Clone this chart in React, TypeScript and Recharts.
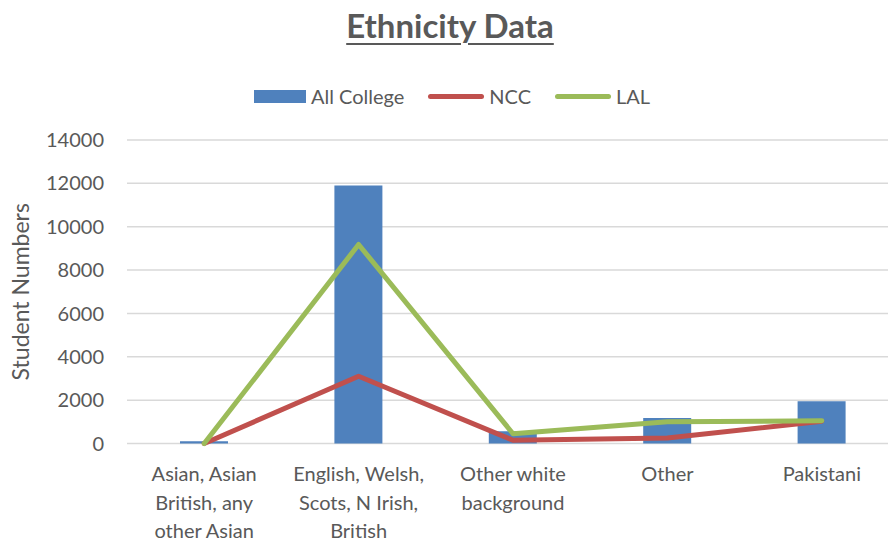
import {
  Bar,
  CartesianGrid,
  ComposedChart,
  Legend,
  Line,
  XAxis,
  YAxis,
} from "recharts";

const categories = [
  "Asian, Asian British, any other Asian",
  "English, Welsh, Scots, N Irish, British",
  "Other white background",
  "Other",
  "Pakistani",
];
const allCollege = [100, 11900, 560, 1180, 1950];
const ncc = [0, 3100, 150, 250, 1030];
const lal = [0, 9180, 450, 1000, 1050];
const yTicks = [0, 2000, 4000, 6000, 8000, 10000, 12000, 14000];

const data = categories.map((name, i) => ({
  name,
  allCollege: allCollege[i],
  ncc: ncc[i],
  lal: lal[i],
}));

const legendItems = [
  { label: "All College", color: "#4F81BD", kind: "bar" },
  { label: "NCC", color: "#C0504D", kind: "line" },
  { label: "LAL", color: "#9BBB59", kind: "line" },
];

const FONT = "Lato, 'Open Sans', sans-serif";
const TEXT = "#595959";

// split a category into lines of at most 15 characters
const wrap = (s: string, max = 15) => {
  const lines: string[] = [];
  let cur = "";
  s.split(" ").forEach((w) => {
    const next = cur ? cur + " " + w : w;
    if (next.length > max && cur) {
      lines.push(cur);
      cur = w;
    } else cur = next;
  });
  if (cur) lines.push(cur);
  return lines;
};

const CategoryTick = (props: any) => {
  const { x, y, payload } = props;
  return (
    <text x={x} y={y} textAnchor="middle" fill={TEXT} fontSize={20} fontFamily={FONT}>
      {wrap(payload.value).map((l, i) => (
        <tspan key={i} x={x} y={y + 37.5 + i * 28.7}>
          {l}
        </tspan>
      ))}
    </text>
  );
};

const LegendContent = () => (
  <div
    style={{
      display: "flex",
      justifyContent: "center",
      alignItems: "center",
      gap: 24,
      fontFamily: FONT,
      fontSize: 20,
      lineHeight: "24px",
      color: TEXT,
      paddingLeft: 4,
    }}
  >
    {legendItems.map((it) => (
      <div key={it.label} style={{ display: "flex", alignItems: "center", gap: 5 }}>
        {it.kind === "bar" ? (
          <div style={{ width: 52, height: 13, background: it.color }} />
        ) : (
          <div style={{ width: 56, height: 5, borderRadius: 3, background: it.color }} />
        )}
        <span>{it.label}</span>
      </div>
    ))}
  </div>
);

export default function App() {
  return (
    <div
      style={{
        position: "absolute",
        left: 0,
        top: 0,
        width: 888,
        height: 542,
        overflow: "hidden",
        background: "#fff",
      }}
    >
      <div
        style={{
          position: "absolute",
          left: 0,
          top: 5,
          width: 900,
          textAlign: "center",
          fontFamily: FONT,
          fontWeight: 700,
          fontSize: 33,
          color: TEXT,
          textDecoration: "underline",
          textUnderlineOffset: 5,
          textDecorationThickness: 2,
          zIndex: 2,
        }}
      >
        Ethnicity Data
      </div>
      <ComposedChart
        width={900}
        height={542}
        data={data}
        margin={{ top: 116, right: 1, bottom: 0, left: 0 }}
      >
        <CartesianGrid vertical={false} stroke="#D9D9D9" strokeWidth={1.5} />
        <XAxis
          dataKey="name"
          axisLine={false}
          tickLine={false}
          tickSize={0}
          tickMargin={0}
          height={98.5}
          interval={0}
          tick={<CategoryTick />}
        />
        <YAxis
          width={127}
          domain={[0, 14000]}
          ticks={yTicks}
          axisLine={false}
          tickLine={false}
          tickSize={0}
          tickMargin={23}
          tick={{ fill: TEXT, fontSize: 20, fontFamily: FONT }}
          label={(p: any) => {
            const vb = p.viewBox;
            const cy = vb.y + vb.height / 2;
            return (
              <text
                x={20}
                y={cy}
                transform={`rotate(-90, 20, ${cy})`}
                textAnchor="middle"
                dominantBaseline="central"
                fill={TEXT}
                fontSize={23}
                fontFamily={FONT}
              >
                Student Numbers
              </text>
            );
          }}
        />
        <Legend
          verticalAlign="top"
          content={<LegendContent />}
          wrapperStyle={{ top: 84, left: 0, width: 900 }}
        />
        <Bar dataKey="allCollege" name="All College" fill="#4F81BD" barSize={48} isAnimationActive={false} />
        <Line
          dataKey="ncc"
          name="NCC"
          type="linear"
          stroke="#C0504D"
          strokeWidth={5}
          strokeLinecap="round"
          strokeLinejoin="round"
          dot={false}
          activeDot={false}
          isAnimationActive={false}
        />
        <Line
          dataKey="lal"
          name="LAL"
          type="linear"
          stroke="#9BBB59"
          strokeWidth={5}
          strokeLinecap="round"
          strokeLinejoin="round"
          dot={false}
          activeDot={false}
          isAnimationActive={false}
        />
      </ComposedChart>
    </div>
  );
}
